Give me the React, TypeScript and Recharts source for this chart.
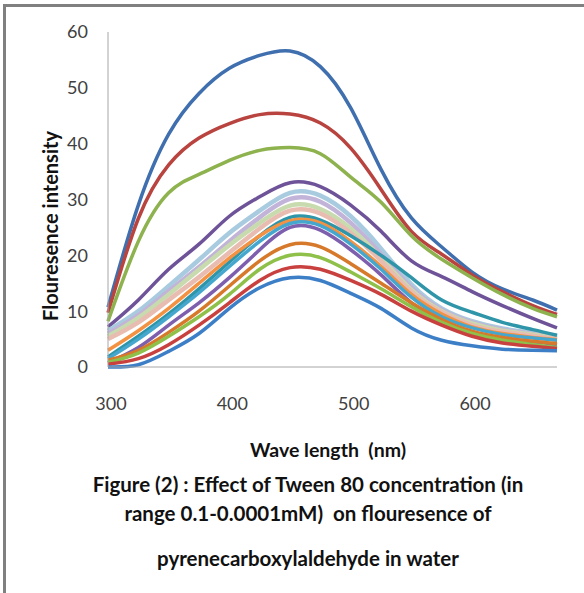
import { LineChart, Line, XAxis, YAxis } from "recharts";

// wavelength (nm)
const wavelengths = [300, 325, 350, 375, 400, 425, 450, 475, 500, 525, 550, 575, 600, 625, 650, 670];

// fluorescence intensity, one array per Tween 80 concentration
const c1 = [10.7, 29, 41.7, 49, 53.5, 55.8, 56.6, 53.8, 46.4, 35.4, 26.7, 21.5, 17, 14, 12, 10.2];
const c2 = [9.7, 26.6, 36.2, 41, 43.6, 45.2, 45.3, 43.7, 39.2, 31.8, 24.3, 20.2, 16.5, 13.5, 11, 9.4];
const c3 = [8.2, 22.5, 31.2, 34.5, 37, 38.8, 39.3, 38.2, 34, 29.5, 23.5, 19.3, 16, 13, 10.5, 9];
const c4 = [7.2, 12, 17.5, 22, 27, 30.5, 33, 32.3, 29, 24.3, 19, 16.2, 13.5, 11, 8.7, 7];
const c5 = [6.5, 10, 14.5, 19.2, 24, 28, 31.2, 30.7, 27, 21.2, 14.8, 10.5, 8.2, 6.9, 6.1, 5.5];
const c6 = [6, 9.3, 13.6, 17.9, 22.5, 26.8, 30.1, 29.6, 25.8, 20.2, 14.2, 10.2, 8, 6.7, 5.9, 5.3];
const c7 = [5.5, 8.8, 13, 17.4, 21.8, 25.8, 28.9, 28.3, 24.8, 19.5, 13.8, 10, 7.8, 6.5, 5.8, 5.2];
const c8 = [5, 8, 12, 16.1, 20.5, 24.8, 28, 27.5, 24, 19, 13.5, 9.8, 7.5, 6.3, 5.6, 5];
const c9 = [1.8, 5.5, 9.5, 14, 18.8, 23.5, 26.8, 26.3, 23.5, 20, 16, 12, 9.8, 8, 6.7, 5.7];
const c10 = [3, 6.5, 10.5, 15, 19.5, 23.5, 26.2, 25.8, 22.5, 18, 13, 9.5, 7.2, 6, 5.3, 4.9];
const c11 = [1.5, 5, 9, 13.3, 18, 22.5, 25.7, 25.3, 22, 17.5, 12.5, 9, 7, 5.8, 5.2, 4.8];
const c12 = [0.8, 3.5, 7.5, 11.5, 16, 21, 25, 24.5, 21, 16.5, 11.5, 8, 6, 5, 4.5, 4];
const c13 = [1.2, 3, 6.2, 10, 14.5, 19, 21.9, 21.5, 18.5, 15, 11.5, 8.5, 6.4, 5.3, 4.6, 4.2];
const c14 = [0.8, 2.5, 5.5, 9, 13, 17.5, 20, 19.6, 17, 14, 10.8, 8, 6, 4.8, 4, 3.5];
const c15 = [0.5, 1.5, 4, 7.5, 11.5, 15.5, 17.8, 17.5, 15.5, 13, 10, 7.5, 5.5, 4.3, 3.7, 3.3];
const c16 = [0, 0.4, 2.8, 6, 10.5, 14.2, 16, 15.5, 13.2, 10.5, 7, 4.8, 3.8, 3.2, 3, 2.9];

const seriesValues = [c1, c2, c3, c4, c5, c6, c7, c8, c9, c10, c11, c12, c13, c14, c15, c16];
const seriesColors = [
  "#3F6FAE", "#B8433F", "#8DB24E", "#6E5399",
  "#A9CBE0", "#C2B3D8", "#C8DBAE", "#E8BCB0",
  "#2F95A9", "#F39243", "#46A7CE", "#7E5FAE",
  "#D7792B", "#8EC04A", "#C8413F", "#3D7FC7",
];
const paleSeries = [4, 5, 6, 7];

const xTicks = [300, 400, 500, 600];
const yTicks = [0, 10, 20, 30, 40, 50, 60];

const rows = wavelengths.map((w, i) => {
  const row: Record<string, number> = { wl: w };
  seriesValues.forEach((s, k) => (row["c" + (k + 1)] = s[i]));
  return row;
});

const FONT = "Lato, 'Open Sans', sans-serif";

export default function App() {
  return (
    <div
      style={{
        position: "absolute",
        left: 0,
        top: 0,
        width: 584,
        height: 593,
        background: "#fff",
        overflow: "hidden",
        fontFamily: FONT,
      }}
    >
      {/* frame */}
      <div
        style={{
          position: "absolute",
          left: 3,
          top: 4,
          width: 600,
          height: 620,
          borderLeft: "3px solid #808080",
          borderTop: "3px solid #808080",
        }}
      />
      <div style={{ position: "absolute", left: 0, top: 0 }}>
        <LineChart
          width={584}
          height={420}
          data={rows}
          margin={{ top: 32, right: 27, left: 0, bottom: 0 }}
        >
          <XAxis
            dataKey="wl"
            type="number"
            domain={[300, 670]}
            ticks={xTicks}
            height={53}
            tickLine={false}
            tickSize={0}
            tickMargin={30}
            axisLine={{ stroke: "#A6A6A6", strokeWidth: 1 }}
            tick={{ fill: "#404040", fontSize: 18, fontFamily: FONT, dx: 3 }}
          />
          <YAxis
            type="number"
            domain={[0, 60]}
            ticks={yTicks}
            width={108}
            tickLine={false}
            tickSize={0}
            tickMargin={20}
            axisLine={{ stroke: "#A6A6A6", strokeWidth: 1 }}
            tick={{ fill: "#404040", fontSize: 18, fontFamily: FONT }}
          />
          {seriesValues.map((_, k) => (
            <Line
              key={k}
              dataKey={"c" + (k + 1)}
              type="natural"
              stroke={seriesColors[k]}
              strokeWidth={paleSeries.includes(k) ? 4.5 : 3.5}
              dot={false}
              activeDot={false}
              isAnimationActive={false}
            />
          ))}
        </LineChart>
      </div>
      <div
        style={{
          position: "absolute",
          left: 50,
          top: 226,
          transform: "translate(-50%, -50%) rotate(-90deg)",
          whiteSpace: "nowrap",
          fontWeight: 700,
          fontSize: 20,
          color: "#111",
        }}
      >
        Flouresence intensity
      </div>
      <div
        style={{
          position: "absolute",
          left: 0,
          width: 656,
          top: 438,
          textAlign: "center",
          whiteSpace: "pre",
          fontWeight: 700,
          fontSize: 19.5,
          color: "#111",
        }}
      >
        {"Wave length  (nm)"}
      </div>
      <div
        style={{
          position: "absolute",
          left: 0,
          width: 616,
          top: 470,
          textAlign: "center",
          whiteSpace: "pre",
          fontWeight: 700,
          fontSize: 20.5,
          lineHeight: "29px",
          color: "#111",
        }}
      >
        {"Figure (2) : Effect of Tween 80 concentration (in\nrange 0.1-0.0001mM)  on flouresence of"}
      </div>
      <div
        style={{
          position: "absolute",
          left: 0,
          width: 616,
          top: 546,
          textAlign: "center",
          fontWeight: 700,
          fontSize: 20.5,
          color: "#111",
        }}
      >
        pyrenecarboxylaldehyde in water
      </div>
    </div>
  );
}
